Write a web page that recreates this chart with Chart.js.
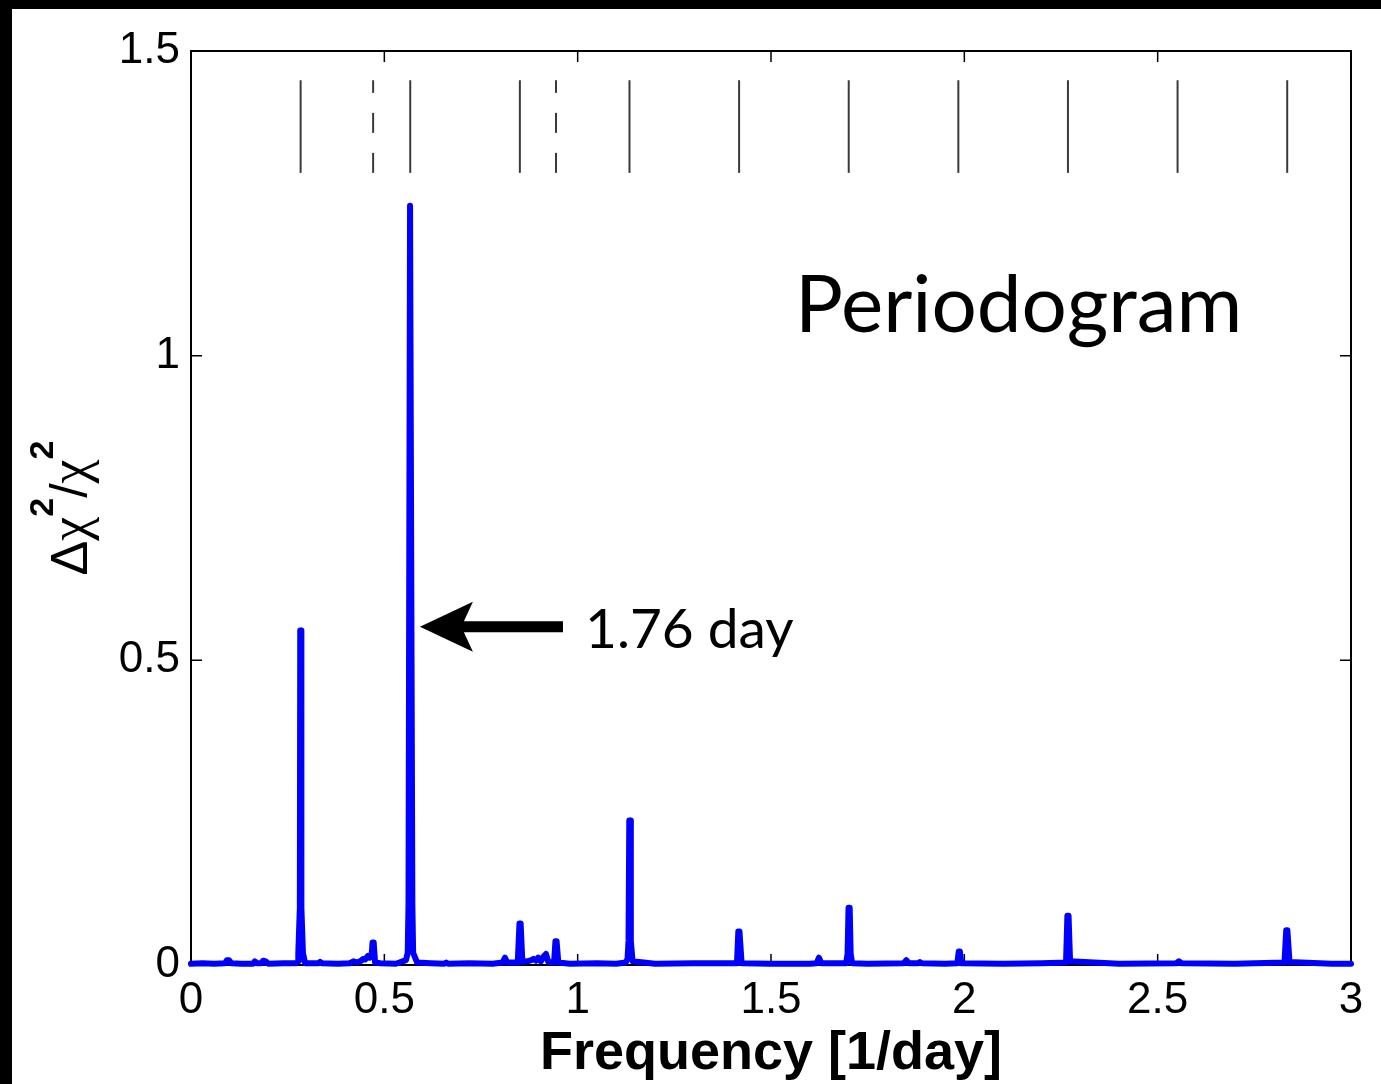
<!DOCTYPE html>
<html>
<head>
<meta charset="utf-8">
<script src="https://cdn.jsdelivr.net/npm/chart.js@4.4.1/dist/chart.umd.min.js"></script>
<style>
  html, body { margin: 0; padding: 0; background: #000; }
  #frame { position: absolute; left: 12px; top: 9px; width: 1369px; height: 1075px; background: #fff; }
  canvas { display: block; }
</style>
</head>
<body>
<div id="frame"><canvas id="periodogram" width="1369" height="1075"></canvas></div>
<script>
// Periodogram: frequency [1/day] against delta chi^2 / chi^2
const frequency = [
  0, 0.03, 0.06, 0.088, 0.093, 0.098, 0.104, 0.13, 0.16,
  0.165, 0.171, 0.182, 0.187, 0.193, 0.2, 0.24, 0.272,
  0.278, 0.2775, 0.2815, 0.2825, 0.2845, 0.2855, 0.2895, 0.295,
  0.33, 0.334, 0.338, 0.38, 0.41, 0.42, 0.43, 0.44, 0.445, 0.45, 0.455, 0.458, 0.462,
  0.467, 0.4695, 0.4725, 0.476, 0.49, 0.53,
  0.556, 0.5605, 0.5625, 0.5665, 0.5685, 0.5725, 0.5745, 0.585,
  0.62, 0.655, 0.66, 0.665, 0.72, 0.78, 0.806, 0.812, 0.818,
  0.845, 0.8495, 0.8525, 0.857, 0.87, 0.88, 0.886, 0.892, 0.898, 0.905, 0.912, 0.918, 0.924,
  0.939, 0.9425, 0.9455, 0.95, 0.98, 1.05, 1.1, 1.124,
  1.129, 1.1315, 1.1335, 1.1355, 1.1375, 1.142, 1.2, 1.3,
  1.412, 1.4155, 1.4185, 1.424, 1.5, 1.6, 1.618, 1.624, 1.63,
  1.694, 1.698, 1.7005, 1.7035, 1.706, 1.71, 1.75, 1.843, 1.85, 1.857, 1.88, 1.885, 1.89,
  1.95, 1.982, 1.9855, 1.9885, 1.992, 2.1, 2.2,
  2.263, 2.2665, 2.2695, 2.2735, 2.4, 2.548, 2.555, 2.562,
  2.7, 2.828, 2.8325, 2.8355, 2.841, 2.95, 3.0
];
const power = [
  0.002, 0.003, 0.002, 0.003, 0.008, 0.008, 0.003, 0.002, 0.002,
  0.006, 0.003, 0.003, 0.007, 0.006, 0.002, 0.003, 0.003,
  0.006, 0.02, 0.094, 0.549, 0.549, 0.094, 0.02, 0.003,
  0.003, 0.005, 0.003, 0.002, 0.003, 0.006, 0.004, 0.007, 0.01, 0.009, 0.013, 0.015, 0.012,
  0.014, 0.037, 0.037, 0.004, 0.003, 0.002,
  0.008, 0.02, 0.10, 1.246, 1.246, 0.10, 0.02, 0.004,
  0.003, 0.002, 0.004, 0.002, 0.003, 0.002, 0.004, 0.012, 0.004,
  0.004, 0.068, 0.068, 0.005, 0.006, 0.008, 0.010, 0.007, 0.012, 0.006, 0.014, 0.018, 0.005,
  0.004, 0.039, 0.039, 0.004, 0.002, 0.003, 0.002, 0.004,
  0.01, 0.04, 0.237, 0.237, 0.04, 0.006, 0.002, 0.003,
  0.003, 0.055, 0.055, 0.003, 0.002, 0.002, 0.003, 0.012, 0.003,
  0.003, 0.018, 0.094, 0.094, 0.018, 0.003, 0.002, 0.003, 0.008, 0.003, 0.003, 0.005, 0.003,
  0.002, 0.003, 0.022, 0.022, 0.003, 0.002, 0.003,
  0.004, 0.081, 0.081, 0.006, 0.002, 0.003, 0.006, 0.003,
  0.002, 0.004, 0.057, 0.057, 0.005, 0.002, 0.002
];

// markers along the top: harmonics (solid) and aliases (dashed)
const harmonicFreqs = [0.2835, 0.567, 0.8505, 1.134, 1.4175, 1.701, 1.9845, 2.268, 2.5515, 2.835];
const aliasFreqs = [0.471, 0.944];
const markerSpan = [1.30, 1.452];

const xTicks = [0, 0.5, 1, 1.5, 2, 2.5, 3];
const yTicks = [0, 0.5, 1, 1.5];

const xTitle = 'Frequency [1/day]';
const plotLabel = 'Periodogram';
const peakLabel = '1.76 day';

Chart.defaults.font.family = '"Liberation Sans", Arial, sans-serif';
Chart.defaults.color = '#000';

const markerSets = harmonicFreqs.map(f => ({ f, dash: [] }))
  .concat(aliasFreqs.map(f => ({ f, dash: [20, 20] })))
  .map(m => ({
    data: [{ x: m.f, y: markerSpan[0] }, { x: m.f, y: markerSpan[1] }],
    borderColor: '#3a3a3a',
    borderWidth: 2,
    borderDash: m.dash,
    borderCapStyle: 'butt',
    pointRadius: 0
  }));

// box, inward ticks, arrow and labels
const ink = {
  id: 'ink',
  beforeDatasetsDraw(chart) {
    const { ctx, chartArea: a, scales: { x, y } } = chart;
    const len = 11;
    ctx.save();
    ctx.strokeStyle = '#000';
    ctx.lineWidth = 1.5;
    ctx.beginPath();
    xTicks.forEach(v => {
      const px = x.getPixelForValue(v);
      ctx.moveTo(px, a.bottom); ctx.lineTo(px, a.bottom - len);
      ctx.moveTo(px, a.top); ctx.lineTo(px, a.top + len);
    });
    yTicks.forEach(v => {
      const py = y.getPixelForValue(v);
      ctx.moveTo(a.left, py); ctx.lineTo(a.left + len, py);
      ctx.moveTo(a.right, py); ctx.lineTo(a.right - len, py);
    });
    ctx.stroke();
    ctx.lineWidth = 2;
    ctx.strokeRect(a.left, a.top, a.right - a.left, a.bottom - a.top);
    ctx.restore();
  },
  afterDatasetsDraw(chart) {
    const { ctx, scales: { x, y } } = chart;
    ctx.save();
    ctx.fillStyle = '#000';

    // arrow pointing at the main peak
    const tipX = x.getPixelForValue(0.592);
    const tipY = y.getPixelForValue(0.555);
    const tailX = x.getPixelForValue(0.962);
    ctx.beginPath();
    ctx.moveTo(tipX, tipY);
    ctx.lineTo(tipX + 53, tipY - 25);
    ctx.lineTo(tipX + 44, tipY - 5.5);
    ctx.lineTo(tailX, tipY - 5.5);
    ctx.lineTo(tailX, tipY + 5.5);
    ctx.lineTo(tipX + 44, tipY + 5.5);
    ctx.lineTo(tipX + 53, tipY + 25);
    ctx.closePath();
    ctx.fill();

    ctx.textBaseline = 'alphabetic';
    ctx.textAlign = 'left';
    ctx.font = '55px Lato';
    ctx.fillText(peakLabel, x.getPixelForValue(1.019), y.getPixelForValue(0.52));
    ctx.font = '80px Lato';
    ctx.fillText(plotLabel, x.getPixelForValue(1.562), y.getPixelForValue(1.039));
    ctx.restore();
  },
  afterDraw(chart) {
    // y title with superscripts, rotated
    const { ctx, chartArea: a } = chart;
    const parts = [
      { t: '\u0394', font: '52px "Liberation Sans"', dy: 0 },
      { t: '\u03c7', font: '54px "Liberation Serif"', dy: 0 },
      { t: '2', font: 'bold 34px "Liberation Sans"', dy: -34 },
      { t: '/', font: '52px "Liberation Sans"', dy: 0 },
      { t: '\u03c7', font: '54px "Liberation Serif"', dy: 0 },
      { t: '2', font: 'bold 34px "Liberation Sans"', dy: -34 }
    ];
    ctx.save();
    let total = 0;
    parts.forEach(p => { ctx.font = p.font; p.w = ctx.measureText(p.t).width; total += p.w; });
    ctx.translate(75, (a.top + a.bottom) / 2 + total / 2);
    ctx.rotate(-Math.PI / 2);
    ctx.fillStyle = '#000';
    ctx.textBaseline = 'alphabetic';
    let cx = 0;
    parts.forEach(p => { ctx.font = p.font; ctx.fillText(p.t, cx, p.dy); cx += p.w; });
    ctx.restore();
  }
};

new Chart(document.getElementById('periodogram'), {
  type: 'line',
  data: {
    datasets: [{
      data: frequency.map((f, i) => ({ x: f, y: power[i] })),
      borderColor: '#0000ff',
      borderWidth: 6,
      borderJoinStyle: 'round',
      borderCapStyle: 'round',
      pointRadius: 0,
      tension: 0,
      clip: false
    }].concat(markerSets)
  },
  options: {
    responsive: false,
    animation: false,
    devicePixelRatio: 1,
    layout: { padding: { top: 42, right: 30, left: 0, bottom: 0 } },
    plugins: { legend: { display: false }, tooltip: { enabled: false } },
    scales: {
      x: {
        type: 'linear',
        min: 0,
        max: 3,
        afterBuildTicks: axis => { axis.ticks = xTicks.map(v => ({ value: v })); },
        afterFit: axis => { axis.height = 119; },
        grid: { display: false, drawTicks: false },
        border: { display: false },
        ticks: { font: { size: 44 }, padding: 9, maxRotation: 0, autoSkip: false, callback: v => String(v) },
        title: { display: true, text: xTitle, font: { size: 54, weight: 'bold' }, padding: { top: 0, bottom: -3 } }
      },
      y: {
        type: 'linear',
        min: 0,
        max: 1.5,
        afterBuildTicks: axis => { axis.ticks = yTicks.map(v => ({ value: v })); },
        afterFit: axis => { axis.width = 179; },
        grid: { display: false, drawTicks: false },
        border: { display: false },
        ticks: { font: { size: 44 }, padding: 11, callback: v => String(v) }
      }
    }
  },
  plugins: [ink]
});
</script>
</body>
</html>
